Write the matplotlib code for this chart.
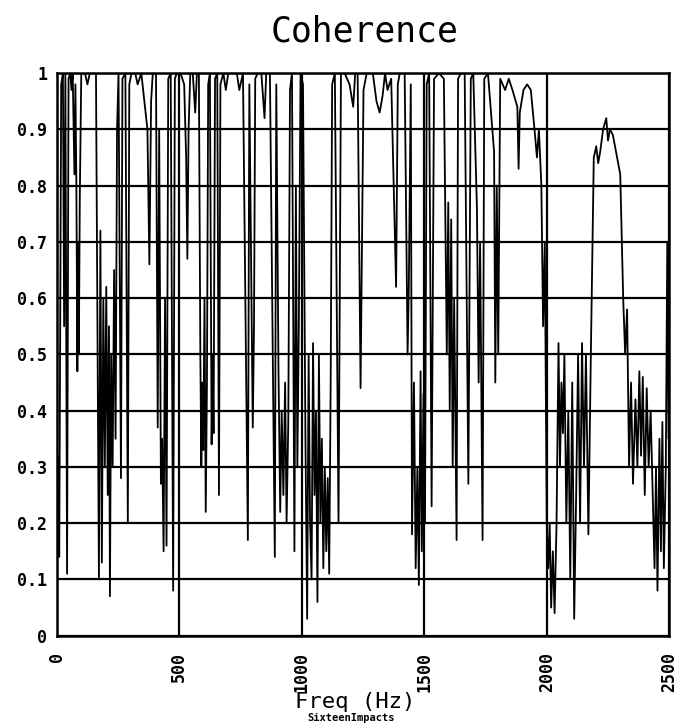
import matplotlib
matplotlib.use('Agg')
import matplotlib.pyplot as plt

params = {'font.family': 'DejaVu Sans Mono',
          'axes.linewidth': 1.8,
          'xtick.major.size': 0,
          'ytick.major.size': 0,
          'savefig.dpi': 100}
plt.rcParams.update(params)

# coherence trace (Hz, coherence)
freq_hz = [0, 5, 10, 18, 25, 30, 35, 42, 48, 55, 60, 65, 72, 76, 80, 84, 87, 90, 94, 100,
           115, 125, 135, 160, 172, 178, 184, 190, 196, 202, 208, 213, 217, 222, 228, 234, 240, 246, 252, 262,
           268, 280, 290, 296, 305, 320, 330, 345, 370, 378, 385, 392, 405, 412, 418, 425, 430, 436, 442, 448,
           455, 465, 475, 482, 490, 505, 520, 528, 533, 538, 545, 555, 565, 572, 580, 586, 590, 594, 598, 603,
           608, 613, 618, 625, 632, 636, 640, 646, 655, 662, 668, 680, 690, 700, 720, 735, 745, 760, 780, 786,
           795, 800, 805, 810, 820, 835, 848, 855, 870, 890, 896, 905, 912, 918, 925, 932, 938, 945, 952, 960,
           970, 976, 982, 988, 995, 1005, 1015, 1022, 1028, 1034, 1040, 1046, 1052, 1058, 1064, 1070, 1076, 1082, 1088, 1094,
           1100, 1106, 1112, 1118, 1124, 1135, 1150, 1160, 1175, 1195, 1210, 1218, 1228, 1240, 1252, 1265, 1290, 1305, 1318, 1330,
           1340, 1350, 1365, 1385, 1392, 1400, 1420, 1432, 1437, 1445, 1450, 1458, 1465, 1472, 1478, 1485, 1490, 1497, 1503, 1510,
           1520, 1530, 1540, 1560, 1580, 1592, 1598, 1604, 1610, 1616, 1622, 1632, 1638, 1650, 1665, 1680, 1690, 1700, 1715, 1722,
           1728, 1738, 1745, 1760, 1785, 1790, 1796, 1802, 1810, 1830, 1845, 1860, 1880, 1885, 1890, 1905, 1920, 1935, 1950, 1960,
           1968, 1978, 1985, 1992, 2000, 2006, 2012, 2018, 2025, 2032, 2040, 2048, 2054, 2060, 2066, 2072, 2080, 2088, 2096, 2104,
           2112, 2120, 2128, 2136, 2144, 2152, 2160, 2170, 2180, 2192, 2202, 2210, 2218, 2230, 2243, 2250, 2258, 2270, 2283, 2300,
           2312, 2320, 2328, 2336, 2344, 2352, 2362, 2370, 2378, 2385, 2392, 2400, 2408, 2416, 2424, 2432, 2440, 2446, 2452, 2460,
           2466, 2472, 2478, 2486, 2492, 2497, 2500]
coherence = [0.15, 0.32, 0.14, 0.98, 1.0, 0.55, 1.0, 0.11, 0.99, 1.0, 0.97, 1.0, 0.82, 0.98, 0.8, 0.47, 0.7, 0.5, 0.78, 1.0,
             1.0, 0.98, 1.0, 1.0, 0.1, 0.72, 0.13, 0.6, 0.3, 0.62, 0.25, 0.55, 0.07, 0.5, 0.3, 0.65, 0.35, 0.9, 1.0, 0.28,
             0.99, 1.0, 0.2, 0.98, 1.0, 1.0, 0.98, 1.0, 0.9, 0.66, 0.95, 1.0, 1.0, 0.37, 0.9, 0.27, 0.35, 0.15, 0.6, 0.16,
             0.99, 1.0, 0.08, 0.99, 1.0, 1.0, 0.98, 0.85, 0.67, 0.9, 1.0, 1.0, 0.93, 1.0, 1.0, 0.5, 0.3, 0.45, 0.33, 0.6,
             0.22, 0.45, 0.98, 1.0, 0.34, 0.5, 0.36, 0.99, 1.0, 0.25, 0.98, 1.0, 0.97, 1.0, 1.0, 1.0, 0.97, 1.0, 0.17, 0.98,
             0.6, 0.37, 0.55, 0.99, 1.0, 1.0, 0.92, 1.0, 1.0, 0.14, 0.98, 0.47, 0.22, 0.4, 0.25, 0.45, 0.2, 0.38, 0.97, 1.0,
             0.15, 0.8, 0.3, 0.55, 1.0, 0.98, 0.35, 0.03, 0.5, 0.2, 0.1, 0.52, 0.25, 0.4, 0.06, 0.5, 0.2, 0.35, 0.12, 0.3,
             0.15, 0.28, 0.11, 0.45, 0.98, 1.0, 0.2, 1.0, 1.0, 0.98, 0.94, 1.0, 1.0, 0.44, 0.97, 1.0, 1.0, 0.95, 0.93, 0.96,
             1.0, 0.97, 0.99, 0.62, 0.98, 1.0, 1.0, 0.5, 0.62, 0.98, 0.18, 0.45, 0.12, 0.3, 0.09, 0.47, 0.15, 0.43, 0.2, 0.98,
             1.0, 0.23, 0.99, 1.0, 0.99, 0.5, 0.77, 0.4, 0.74, 0.3, 0.6, 0.17, 0.99, 1.0, 1.0, 0.27, 0.99, 1.0, 0.76, 0.45,
             0.7, 0.17, 0.99, 1.0, 0.86, 0.45, 0.8, 0.5, 0.99, 0.97, 0.99, 0.97, 0.94, 0.83, 0.93, 0.97, 0.98, 0.97, 0.9, 0.85,
             0.9, 0.8, 0.55, 0.7, 0.2, 0.12, 0.2, 0.05, 0.15, 0.04, 0.2, 0.52, 0.3, 0.45, 0.36, 0.5, 0.2, 0.4, 0.1, 0.45,
             0.03, 0.25, 0.5, 0.2, 0.52, 0.3, 0.5, 0.18, 0.5, 0.85, 0.87, 0.84, 0.86, 0.9, 0.92, 0.88, 0.9, 0.89, 0.86, 0.82,
             0.6, 0.5, 0.58, 0.3, 0.45, 0.27, 0.42, 0.3, 0.47, 0.32, 0.46, 0.25, 0.44, 0.3, 0.4, 0.26, 0.12, 0.3, 0.08, 0.35,
             0.15, 0.38, 0.12, 0.3, 0.7, 0.35, 0.68]

x_ticks = [0, 500, 1000, 1500, 2000, 2500]
x_tick_labels = ['0', '500', '1000', '1500', '2000', '2500']
y_ticks = [0, 0.1, 0.2, 0.3, 0.4, 0.5, 0.6, 0.7, 0.8, 0.9, 1.0]
y_tick_labels = ['0', '0.1', '0.2', '0.3', '0.4', '0.5', '0.6', '0.7', '0.8', '0.9', '1']

fig = plt.figure(figsize=(6.76, 7.24))
ax = fig.add_axes([0.084, 0.122, 0.906, 0.777])
ax.plot(freq_hz, coherence, color='black', lw=1.3)
ax.set_xlim(0, 2500)
ax.set_ylim(0, 1)

ax.set_xticks(x_ticks)
ax.set_xticklabels(x_tick_labels, rotation=90, fontsize=12, fontweight='bold')
ax.set_yticks(y_ticks)
ax.set_yticklabels(y_tick_labels, fontsize=12, fontweight='bold')
ax.tick_params(axis='x', pad=12)
ax.tick_params(axis='y', pad=7)
ax.grid(True, color='black', lw=1.6)

fig.text(0.54, 0.957, 'Coherence', ha='center', va='center', fontsize=25)
fig.text(0.525, 0.030, 'Freq (Hz)', ha='center', va='center', fontsize=16)
fig.text(0.52, 0.008, 'SixteenImpacts', ha='center', va='center', fontsize=7.5, fontweight='bold')

fig.savefig('out.png')
